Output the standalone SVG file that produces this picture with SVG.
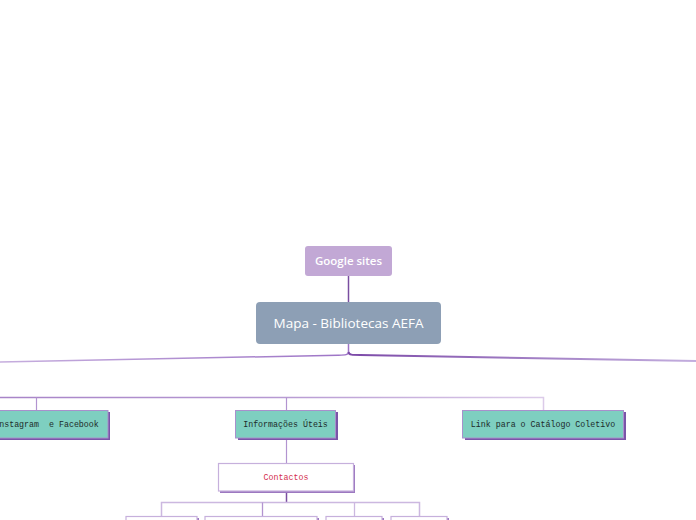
<svg xmlns="http://www.w3.org/2000/svg" width="696" height="520" viewBox="0 0 696 520">
<defs>
<linearGradient id="gL" x1="0" y1="0" x2="1" y2="0"><stop offset="0" stop-color="#c6aede"/><stop offset="1" stop-color="#9d74c6"/></linearGradient>
<linearGradient id="gR" x1="0" y1="0" x2="1" y2="0"><stop offset="0" stop-color="#7c4aa8"/><stop offset="1" stop-color="#c3aede"/></linearGradient>
<linearGradient id="gH" x1="0" y1="0" x2="1" y2="0"><stop offset="0" stop-color="#a884c8"/><stop offset="0.5" stop-color="#b699d2"/><stop offset="1" stop-color="#dccbe9"/></linearGradient>
</defs>
<style>
.ln{fill:none;stroke:#b294d0;stroke-width:1.2}
.teal{fill:#7ecfc0;stroke:#a890cc;stroke-width:1}
.sh{fill:#7a55a8}
.wh{fill:#ffffff;stroke:#c6b0dc;stroke-width:1.2}
.mono{font-family:"Liberation Mono","DejaVu Sans Mono",monospace;font-size:8.3px;fill:#1d2b2a}
.red{fill:#d4304e}
</style>
<rect width="696" height="520" fill="#ffffff"/>
<g id="connectors">
<path d="M348.5,276 V302" stroke="#7a4ea0" stroke-width="1.5" fill="none"/>
<path d="M348.5,344 V352 C348.5,355 345,355 338,355.2 L0,362" stroke="url(#gL)" stroke-width="1.5" fill="none"/>
<path d="M348.5,352 C349,355 352,355 360,355 C450,356 560,359 696,361" stroke="url(#gR)" stroke-width="2" fill="none"/>
<path d="M0,397.5 H543.5 V410" stroke="url(#gH)" stroke-width="1.5" fill="none"/>
<path d="M36.5,397.5 V410" class="ln" stroke="#a884c8"/>
<path d="M286.5,397.5 V410" class="ln" stroke="#a884c8"/>
<path d="M286.5,438 V463" class="ln"/>
<path d="M286.5,491 V502" stroke="#7a4ea0" stroke-width="1.5" fill="none"/>
<path d="M161.5,516 V502.5 H419.5 V516" stroke="#ccb8e0" stroke-width="1.5" fill="none"/>
<path d="M262.5,502.5 V516" stroke="#b294d0" stroke-width="1.3" fill="none"/>
<path d="M354.5,502.5 V516" stroke="#ccb8e0" stroke-width="1.3" fill="none"/>
</g>
<g id="google-sites">
<rect x="305" y="246" width="87" height="30" rx="3" fill="#c2a8d5"/>
<text x="348.5" y="265" text-anchor="middle" font-family="Open Sans, Noto Sans, sans-serif" font-size="11.5" font-weight="600" fill="#ffffff">Google sites</text>
</g>
<g id="main">
<rect x="256" y="302" width="185" height="42" rx="4" fill="#8d9fb5"/>
<text x="348.5" y="328" text-anchor="middle" font-family="Open Sans, Noto Sans, sans-serif" font-size="13.5" fill="#ffffff">Mapa - Bibliotecas AEFA</text>
</g>
<g id="instagram">
<rect class="sh" x="-13" y="412" width="123" height="28"/>
<rect class="teal" x="-15" y="410.5" width="123" height="27.5"/>
<text class="mono" x="46.5" y="427" text-anchor="middle" xml:space="preserve">Instagram  e Facebook</text>
</g>
<g id="informacoes">
<rect class="sh" x="238" y="412" width="100" height="28"/>
<rect class="teal" x="235.5" y="410.5" width="100" height="27.5"/>
<text class="mono" x="285.5" y="427" text-anchor="middle">Informações Úteis</text>
</g>
<g id="link">
<rect class="sh" x="465" y="412" width="161" height="28"/>
<rect class="teal" x="462.5" y="410.5" width="161" height="27.5"/>
<text class="mono" x="543" y="427" text-anchor="middle">Link para o Catálogo Coletivo</text>
</g>
<g id="contactos">
<rect x="220" y="465" width="135" height="28" fill="#9c78c0"/>
<rect class="wh" x="218.5" y="463.5" width="135" height="27.5"/>
<text class="mono red" x="286" y="480" text-anchor="middle">Contactos</text>
</g>
<g id="sub1"><rect x="128" y="518" width="71" height="10" fill="#9c78c0"/><rect class="wh" x="126" y="516.5" width="71" height="10"/></g>
<g id="sub2"><rect x="207" y="518" width="112" height="10" fill="#9c78c0"/><rect class="wh" x="205" y="516.5" width="112" height="10"/></g>
<g id="sub3"><rect x="328" y="518" width="56" height="10" fill="#9c78c0"/><rect class="wh" x="326" y="516.5" width="56" height="10"/></g>
<g id="sub4"><rect x="393" y="518" width="56" height="10" fill="#9c78c0"/><rect class="wh" x="391" y="516.5" width="56" height="10"/></g>
</svg>
